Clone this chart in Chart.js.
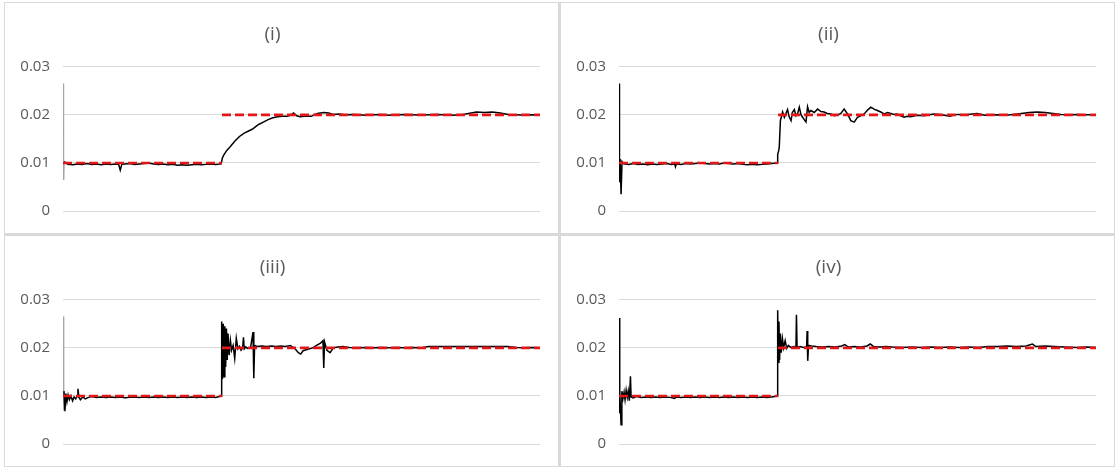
<!DOCTYPE html>
<html>
<head>
<meta charset="utf-8">
<script src="https://cdn.jsdelivr.net/npm/chart.js@4"></script>
<style>
  body { margin: 0; background: #fff; }
  #wrap { position: absolute; left: 4px; top: 2px; width: 1111px; height: 465px; background: #d9d9d9; }
  .panel { position: absolute; width: 553px; height: 230px; background: #fff; }
  .panel canvas { display: block; }
</style>
</head>
<body>
<div id="wrap">
  <div class="panel" style="left:1px;top:1px"><canvas id="c1" width="553" height="230"></canvas></div>
  <div class="panel" style="left:557px;top:1px"><canvas id="c2" width="553" height="230"></canvas></div>
  <div class="panel" style="left:1px;top:234px"><canvas id="c3" width="553" height="230"></canvas></div>
  <div class="panel" style="left:557px;top:234px"><canvas id="c4" width="553" height="230"></canvas></div>
</div>
<script>
// panel titles and y axis ticks
var titles = ['(i)', '(ii)', '(iii)', '(iv)'];
var yTickValues = [0, 0.01, 0.02, 0.03];
var yTickLabels = ['0', '0.01', '0.02', '0.03'];

// set point (red dashed): 0.01 until the step, 0.02 after
var refX = [0, 100, 100, 100, 300];
var refY = [0.01, 0.01, null, 0.02, 0.02];

var resp1 = [[0,0.0265],[0.4,0.0065],[0.8,0.0103],[3,0.0097],[6,0.0096],[9,0.0098],[12,0.0097],[15,0.0099],[18,0.0097],[21,0.0098],[24,0.0096],[27,0.0098],[30,0.0097],[33,0.0098],[35,0.0097],[36,0.0085],[37,0.0097],[39,0.0098],[42,0.0099],[45,0.0097],[48,0.0098],[51,0.0099],[54,0.0100],[57,0.0098],[60,0.0097],[63,0.0098],[66,0.0096],[69,0.0097],[72,0.0095],[75,0.0096],[78,0.0095],[81,0.0096],[84,0.0097],[87,0.0096],[90,0.0097],[93,0.0098],[96,0.0097],[99.5,0.0098],[100.2,0.0110],[101,0.0116],[103,0.0126],[105,0.0133],[108,0.0145],[111,0.0155],[114,0.0162],[117,0.0167],[119,0.0170],[121,0.0175],[123,0.0180],[126,0.0185],[129,0.0190],[132,0.0194],[135,0.0196],[138,0.0197],[141,0.0197],[143,0.0199],[145,0.0204],[147,0.0198],[149,0.0196],[152,0.0197],[156,0.0197],[160,0.0203],[164,0.0205],[167,0.0204],[170,0.0201],[174,0.0202],[178,0.0200],[182,0.0201],[186,0.0200],[190,0.0199],[195,0.0200],[200,0.0201],[205,0.0199],[210,0.0200],[215,0.0201],[220,0.0200],[225,0.0199],[230,0.0200],[235,0.0201],[240,0.0200],[245,0.0199],[250,0.0200],[255,0.0203],[260,0.0206],[265,0.0205],[270,0.0206],[275,0.0204],[280,0.0201],[285,0.0200],[290,0.0199],[295,0.0200],[300,0.0199]];

var resp2 = [[0,0.0265],[0.3,0.0060],[0.7,0.0108],[1.3,0.0035],[1.9,0.0103],[3,0.0098],[6,0.0097],[9,0.0099],[12,0.0097],[15,0.0098],[18,0.0096],[21,0.0098],[24,0.0097],[27,0.0098],[30,0.0099],[33,0.0097],[35,0.0098],[35.5,0.0092],[36,0.0098],[39,0.0097],[42,0.0099],[45,0.0098],[48,0.0099],[51,0.0100],[54,0.0099],[57,0.0098],[60,0.0099],[63,0.0098],[66,0.0100],[69,0.0099],[72,0.0098],[75,0.0099],[78,0.0097],[81,0.0096],[84,0.0097],[87,0.0096],[90,0.0097],[93,0.0098],[96,0.0099],[99.5,0.0100],[99.8,0.0118],[100.4,0.0125],[100.8,0.0133],[101.5,0.0188],[102.9,0.0206],[104,0.0195],[105,0.0203],[106,0.0211],[107,0.0196],[108.2,0.0188],[109,0.0205],[110.3,0.0211],[111.3,0.0198],[112.3,0.0202],[113.4,0.0216],[114.5,0.0200],[115.5,0.0195],[116.5,0.0190],[117.6,0.0185],[118.6,0.0217],[119.6,0.0205],[120.7,0.0209],[122.8,0.0205],[124.9,0.0212],[127,0.0207],[129,0.0206],[131,0.0203],[133.3,0.0202],[135.4,0.0198],[137.4,0.0199],[139.5,0.0203],[141.6,0.0212],[143.7,0.0202],[145.8,0.0188],[147.9,0.0185],[150,0.0195],[152,0.0198],[154.2,0.0202],[156.3,0.0210],[158.4,0.0216],[160.4,0.0212],[162.5,0.0209],[164.6,0.0206],[166.8,0.0202],[168.9,0.0205],[170.9,0.0203],[173,0.0201],[175,0.0202],[177.2,0.0198],[179.3,0.0195],[181.4,0.0197],[183.5,0.0196],[187.6,0.0199],[192,0.0198],[198,0.0202],[203,0.0200],[208,0.0197],[212.8,0.0201],[218,0.0200],[225.3,0.0203],[230,0.0199],[237.9,0.0200],[243,0.0199],[248,0.0201],[253,0.0203],[258,0.0205],[263,0.0206],[268,0.0205],[273,0.0203],[278,0.0201],[283,0.0200],[288,0.0201],[293,0.0200],[300,0.0200]];

var resp3 = [[0,0.0265],[0.3,0.0070],[0.6,0.0110],[1.2,0.0068],[1.8,0.0105],[2.5,0.0088],[3.2,0.0102],[4,0.0092],[5,0.0100],[6,0.0090],[7,0.0098],[8,0.0094],[9,0.0100],[9.4,0.0115],[10,0.0097],[11,0.0092],[12.5,0.0098],[14,0.0094],[16,0.0097],[18,0.0099],[21,0.0097],[24,0.0098],[27,0.0097],[30,0.0098],[33,0.0097],[36,0.0098],[39,0.0096],[42,0.0097],[45,0.0098],[48,0.0097],[51,0.0098],[54,0.0097],[57,0.0098],[60,0.0097],[63,0.0098],[66,0.0097],[69,0.0098],[72,0.0097],[75,0.0098],[78,0.0097],[81,0.0098],[84,0.0097],[87,0.0098],[90,0.0097],[93,0.0098],[96,0.0097],[99.5,0.0100],[99.8,0.0255],[100.3,0.0135],[100.8,0.0250],[101.3,0.0140],[101.8,0.0245],[102.3,0.0160],[102.8,0.0240],[103.3,0.0175],[103.8,0.0230],[104.5,0.0185],[105.3,0.0215],[106,0.0195],[107,0.0205],[108,0.0178],[109,0.0220],[110,0.0198],[111,0.0203],[112,0.0195],[113,0.0200],[113.5,0.0222],[114,0.0198],[115,0.0202],[116,0.0199],[118,0.0201],[119.5,0.0233],[120,0.0137],[120.5,0.0205],[122,0.0203],[125,0.0204],[128,0.0203],[131,0.0204],[134,0.0203],[137,0.0204],[140,0.0203],[143,0.0205],[146,0.0198],[148,0.0190],[149.5,0.0187],[151,0.0194],[154,0.0197],[157,0.0200],[160,0.0206],[162,0.0210],[163.5,0.0215],[164,0.0158],[164.5,0.0212],[166,0.0195],[168,0.0190],[170,0.0200],[173,0.0202],[176,0.0203],[180,0.0201],[185,0.0200],[190,0.0201],[195,0.0200],[200,0.0201],[205,0.0200],[210,0.0201],[215,0.0200],[220,0.0201],[225,0.0200],[230,0.0203],[240,0.0203],[250,0.0203],[260,0.0203],[270,0.0203],[280,0.0203],[285,0.0201],[290,0.0200],[295,0.0201],[300,0.0200]];

var resp4 = [[0,0.0262],[0.3,0.0064],[0.6,0.0110],[1.3,0.0040],[1.8,0.0110],[2.5,0.0095],[3.2,0.0108],[3.8,0.0092],[4.5,0.0112],[5.2,0.0097],[5.8,0.0110],[6.5,0.0090],[7.2,0.0141],[7.6,0.0098],[9,0.0096],[11,0.0099],[14,0.0097],[17,0.0098],[20,0.0097],[23,0.0098],[26,0.0097],[29,0.0098],[32,0.0097],[35,0.0095],[36,0.0098],[39,0.0097],[42,0.0098],[45,0.0097],[48,0.0098],[51,0.0097],[54,0.0098],[57,0.0097],[60,0.0098],[63,0.0097],[66,0.0098],[69,0.0097],[72,0.0098],[75,0.0097],[78,0.0098],[81,0.0097],[84,0.0098],[87,0.0097],[90,0.0098],[93,0.0097],[96,0.0098],[99.5,0.0100],[99.8,0.0278],[100.2,0.0170],[100.6,0.0255],[101,0.0175],[101.5,0.0230],[102,0.0190],[102.8,0.0219],[103.5,0.0200],[104.5,0.0215],[105.5,0.0199],[106.5,0.0205],[108,0.0201],[110,0.0203],[111.3,0.0202],[111.6,0.0269],[112,0.0202],[114,0.0203],[116,0.0201],[118,0.0202],[118.3,0.0235],[118.7,0.0173],[119.2,0.0205],[121,0.0204],[124,0.0203],[128,0.0202],[132,0.0203],[136,0.0202],[140,0.0204],[142,0.0207],[144,0.0202],[148,0.0203],[152,0.0202],[156,0.0204],[158,0.0208],[160,0.0203],[164,0.0202],[168,0.0203],[172,0.0202],[178,0.0201],[184,0.0202],[190,0.0201],[196,0.0202],[202,0.0201],[208,0.0202],[214,0.0201],[220,0.0202],[226,0.0201],[232,0.0203],[238,0.0203],[244,0.0204],[250,0.0203],[256,0.0204],[260,0.0208],[262,0.0203],[268,0.0204],[274,0.0203],[280,0.0202],[288,0.0201],[294,0.0202],[300,0.0201]];

var responses = [resp1, resp2, resp3, resp4];
// (i) and (iii) start with a faint grey trace
var greyStart = [true, false, true, false];

function makeChart(id, idx) {
  var ref = refX.map(function(x, i){ return {x: x, y: refY[i]}; });
  var resp = responses[idx].map(function(p){ return {x: p[0], y: p[1]}; });
  return new Chart(document.getElementById(id), {
    type: 'line',
    data: {
      datasets: [{
        label: 'set point',
        data: ref,
        borderColor: 'rgb(226,24,24)',
        borderWidth: 2.6,
        borderDash: [9, 4],
        pointRadius: 0,
        spanGaps: false
      }, {
        label: 'response',
        data: resp,
        borderColor: '#000',
        borderWidth: 1.5,
        pointRadius: 0,
        segment: {
          borderColor: function(ctx){ return greyStart[idx] && ctx.p0DataIndex < 2 ? '#a6a6a6' : undefined; },
          borderWidth: function(ctx){ return greyStart[idx] && ctx.p0DataIndex < 2 ? 1 : undefined; }
        }
      }]
    },
    options: {
      responsive: false,
      animation: false,
      devicePixelRatio: 1,
      layout: { padding: { left: 0, right: 18, top: 0, bottom: 20 } },
      plugins: {
        legend: { display: false },
        tooltip: { enabled: false },
        title: {
          display: true,
          text: titles[idx],
          color: '#595959',
          font: { family: 'Open Sans', size: 19, weight: 'normal', lineHeight: 1.2 },
          padding: { top: 20, bottom: 21 }
        }
      },
      scales: {
        x: { type: 'linear', min: 0, max: 300, display: false },
        y: {
          min: 0,
          max: 0.03,
          border: { display: false },
          grid: { color: '#d9d9d9', lineWidth: 1, drawTicks: false },
          afterBuildTicks: function(scale){ scale.ticks = yTickValues.map(function(v){ return {value: v}; }); },
          afterFit: function(scale){ scale.width = 58; },
          ticks: {
            color: '#595959',
            font: { family: 'Open Sans', size: 15 },
            padding: 13,
            callback: function(v){ return yTickLabels[yTickValues.indexOf(v)]; }
          }
        }
      }
    }
  });
}

makeChart('c1', 0);
makeChart('c2', 1);
makeChart('c3', 2);
makeChart('c4', 3);
</script>
</body>
</html>
